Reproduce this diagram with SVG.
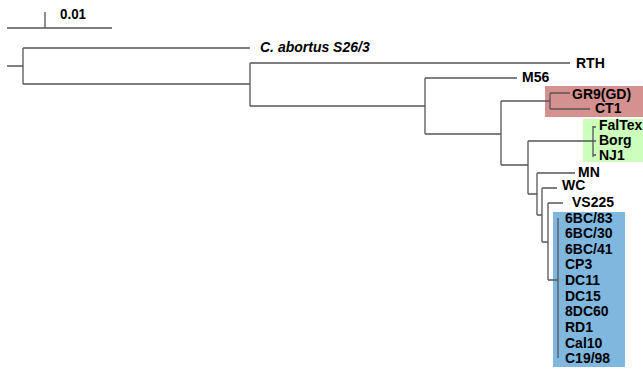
<svg xmlns="http://www.w3.org/2000/svg" width="643" height="369" viewBox="0 0 643 369">
<style>
.e{stroke:#555;stroke-width:1.3;fill:none}
.t{font-family:"Liberation Sans",Arial,sans-serif;font-weight:bold;font-size:14px;fill:#000}
</style>
<rect width="643" height="369" fill="#fff"/>
<g id="boxes">
<rect x="545" y="86" width="98" height="31" fill="#d4918f"/>
<rect x="583" y="119" width="60" height="43" fill="#ccffbb"/>
<rect x="553" y="212" width="72" height="155" fill="#80b7df"/>
</g>
<g id="scale">
<path class="e" d="M7 28H112M45 12V28"/>
<text class="t" x="60" y="18.5" font-size="12.5" textLength="26" lengthAdjust="spacingAndGlyphs">0.01</text>
</g>
<g id="connectors">
<path class="e" d="M7 66H23M23 48V84M23 48H250M23 84H250M250 63V106M250 63H570M250 106H425M425 78V134M425 78H517M425 134H501M501 101V165M501 101H550M550 93V109M550 93H570M550 109H590M501 165H528M528 141V194M528 141H593M593 126V157M593 127H596M593 141H596M593 155H596M528 194H537M537 173V215M537 173H575M537 215H542M542 188V242M542 188H557M542 242H548M548 203V280M548 203H563M548 280H558M558 218V358"/>
</g>
<g id="leaves">
<text class="t" x="260" y="52" font-style="italic">C. abortus S26/3</text>
<text class="t" x="576" y="68">RTH</text>
<text class="t" x="522" y="82">M56</text>
<text class="t" x="572" y="98.5">GR9(GD)</text>
<text class="t" x="595" y="113">CT1</text>
<text class="t" x="599" y="130">FalTex</text>
<text class="t" x="599" y="145">Borg</text>
<text class="t" x="599" y="160">NJ1</text>
<text class="t" x="578" y="177">MN</text>
<text class="t" x="562" y="190">WC</text>
<text class="t" x="572" y="207">VS225</text>
<text class="t" x="565" y="222.5">6BC/83</text>
<text class="t" x="565" y="238">6BC/30</text>
<text class="t" x="565" y="253.5">6BC/41</text>
<text class="t" x="565" y="269">CP3</text>
<text class="t" x="565" y="285">DC11</text>
<text class="t" x="565" y="300.5">DC15</text>
<text class="t" x="565" y="316">8DC60</text>
<text class="t" x="565" y="332">RD1</text>
<text class="t" x="565" y="347.5">Cal10</text>
<text class="t" x="565" y="363">C19/98</text>
</g>
</svg>
